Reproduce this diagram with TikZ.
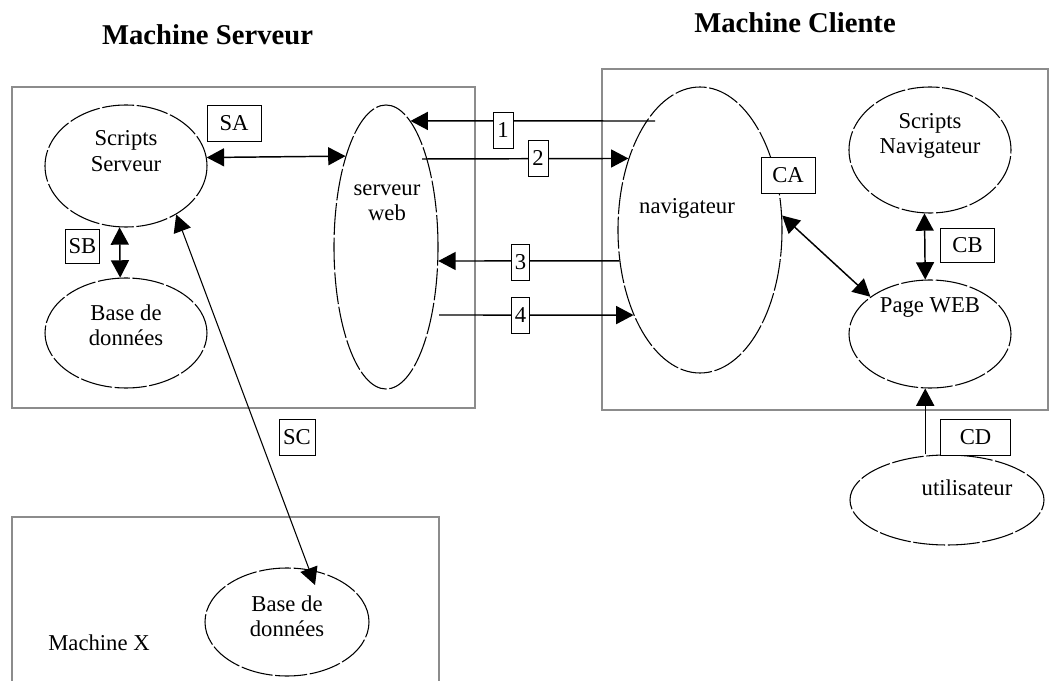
\documentclass[tikz,border=0pt]{standalone}
\usepackage{fontspec}
\setmainfont{Liberation Serif}
\usetikzlibrary{shapes.geometric,arrows.meta,calc}
\tikzset{
  machine/.style={draw=black!45, line width=1.6pt},
  ell/.style={draw, shape=ellipse, inner sep=0pt, line width=0.8pt, dash pattern=on 24pt off 2pt},
  txt/.style={align=center, inner sep=0pt, font=\fontsize{17}{19}\selectfont},
  lbl/.style={draw, fill=white, line width=0.6pt, inner sep=0pt, font=\fontsize{17}{19}\selectfont},
  title/.style={inner sep=0pt, font=\fontsize{21.5}{24}\selectfont\bfseries},
  conn/.style={line width=1.1pt},
  tip/.style={-{Triangle[length=13pt,width=13.5pt]}},
  tips/.style={{Triangle[length=13pt,width=13.5pt]}-{Triangle[length=13pt,width=13.5pt]}}
}
\begin{document}
\begin{tikzpicture}[x=0.75pt,y=-0.75pt]
\useasboundingbox (0,0) rectangle (1051,681);
% machine boxes
\draw[machine] (12,87) rectangle (475,408);
\draw[machine] (602,69) rectangle (1048,410);
\draw[machine] (12,690) -- (12,517) -- (439,517) -- (439,690);
% titles
\node[title, anchor=base] (tS) at (207.5,45) {Machine Serveur};
\node[title, anchor=base] (tC) at (795,33) {Machine Cliente};
\node[txt] (tX) at (99,643) {Machine X};
% ellipses
\node[ell, minimum width=121.5pt, minimum height=91.5pt] (ss) at (126,166) {};
\node[ell, minimum width=121.5pt, minimum height=82.5pt] (bl) at (126,333) {};
\node[ell, minimum width=78pt, minimum height=213pt] (sw) at (386,247) {};
\node[ell, minimum width=123pt, minimum height=214.5pt] (nav) at (700,230) {};
\node[ell, minimum width=121.5pt, minimum height=94.5pt] (sn) at (930,150) {};
\node[ell, minimum width=121.5pt, minimum height=81pt] (pw) at (930,334) {};
\node[ell, minimum width=145.5pt, minimum height=67.5pt] (ut) at (947,500) {};
\node[ell, minimum width=123pt, minimum height=81pt] (bx) at (287,622) {};
% ellipse texts
\node[txt] (tss) at (126,151) {Scripts\\Serveur};
\node[txt] (tbl) at (126,325) {Base de\\données};
\node[txt] (tsw) at (387,203) {serveur\\web};
\node[txt] (tnav) at (687,208) {navigateur};
\node[txt] (tsn) at (930,136) {Scripts\\Navigateur};
\node[txt] (tpw) at (930,308) {Page WEB};
\node[txt] (tut) at (967,488) {utilisateur};
\node[txt] (tbx) at (287,616) {Base de\\données};
% free ends
\coordinate (a1s) at (655,121);
\coordinate (a2s) at (422,159);
\coordinate (a4s) at (439,315);
% connectors
\draw[conn, tips] (ss.6) -- (sw.114);
\draw[conn, tips] (ss.264) -- (bl.96);
\draw[conn, tips, line width=0.8pt] (ss.316) -- ($(bx.center)+(28,-37)$);
\draw[conn, tip] (a1s) -- (sw.79);
\draw[conn, tip] (a2s) -- (nav.135);
\draw[conn, tip] (nav.201) -- (sw.345);
\draw[conn, tip] (a4s) -- (nav.232);
\draw[conn, tips] (nav.10) -- (pw.148);
\draw[conn, tips] (sn.265) -- (pw.95);
\draw[conn, tip] (pw.265 |- ut.north) -- (pw.265);
% labels
\node[lbl, minimum width=40.5pt, minimum height=27pt] (lSA) at (234,123) {SA};
\node[lbl, minimum width=26pt, minimum height=25pt] (lSB) at (82.5,246.5) {SB};
\node[lbl, minimum width=27pt, minimum height=27.5pt] (lSC) at (297,437.5) {SC};
\node[lbl, minimum width=15pt, minimum height=27pt] (l1) at (503,130) {1};
\node[lbl, minimum width=15pt, minimum height=27pt] (l2) at (538,158) {2};
\node[lbl, minimum width=13pt, minimum height=27.5pt] (l3) at (520.5,262.5) {3};
\node[lbl, minimum width=13pt, minimum height=27.5pt] (l4) at (520.5,315.5) {4};
\node[lbl, minimum width=40.5pt, minimum height=27pt] (lCA) at (788,175) {CA};
\node[lbl, minimum width=41pt, minimum height=26pt] (lCB) at (967.5,245.5) {CB};
\node[lbl, minimum width=53pt, minimum height=27pt] (lCD) at (975.5,437) {CD};
\end{tikzpicture}
\end{document}
